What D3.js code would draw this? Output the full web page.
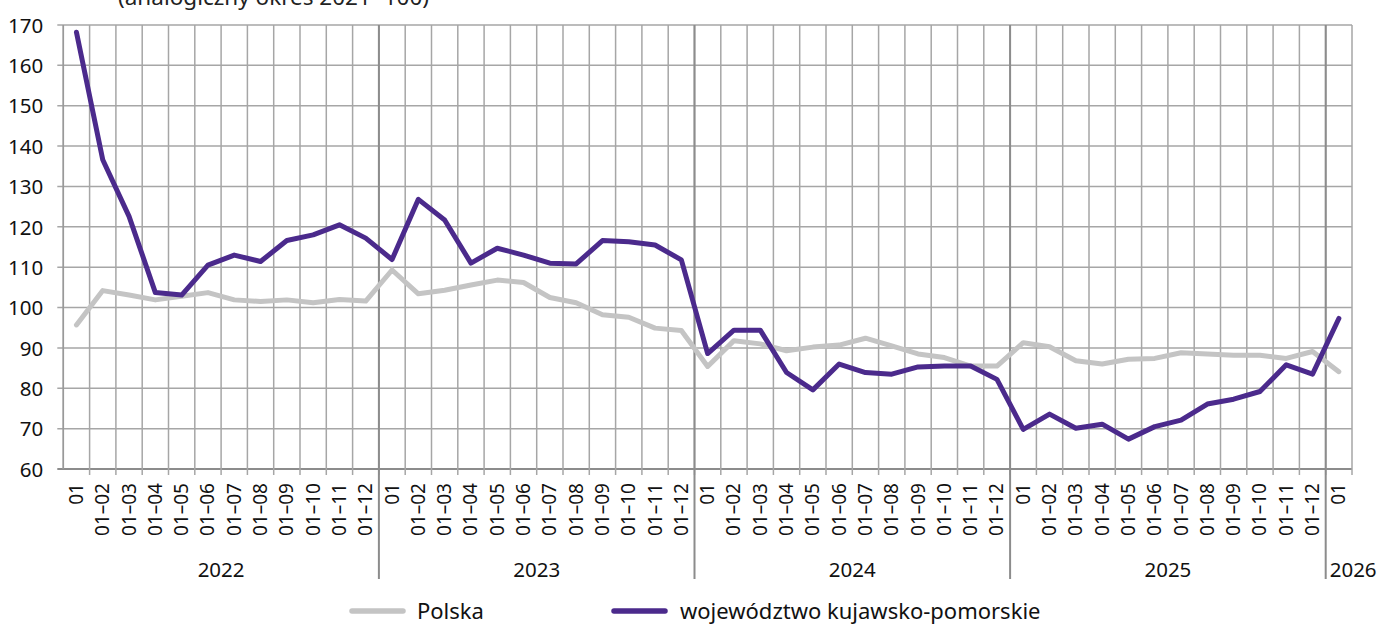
<!DOCTYPE html>
<html><head><meta charset="utf-8">
<script src="https://cdn.jsdelivr.net/npm/d3@7/dist/d3.min.js"></script>
<style>
html,body{margin:0;padding:0;background:#fff;}
svg{display:block;font-family:"Noto Sans",sans-serif;}
</style></head>
<body><svg id="c" width="1379" height="624"></svg>
<script>
const monthLabels = ["01","01–02","01–03","01–04","01–05","01–06","01–07","01–08","01–09","01–10","01–11","01–12"];
const years = ["2022","2023","2024","2025","2026"];
const yearMonths = [12,12,12,12,1];
const yTicks = [60,70,80,90,100,110,120,130,140,150,160,170];
const polska = [95.7,104.2,103.1,101.9,102.8,103.7,101.9,101.5,101.9,101.2,102.0,101.6,
  109.3,103.4,104.3,105.6,106.8,106.2,102.5,101.2,98.2,97.6,94.9,94.3,
  85.4,91.8,91.0,89.3,90.2,90.7,92.4,90.5,88.5,87.6,85.5,85.5,
  91.3,90.3,86.8,86.0,87.2,87.4,88.8,88.5,88.2,88.2,87.4,89.1,
  84.1];
const kujPom = [168.2,136.6,122.6,103.7,103.1,110.5,113.0,111.4,116.6,118.0,120.5,117.2,
  111.9,126.8,121.7,111.0,114.7,113.0,111.0,110.8,116.6,116.3,115.5,111.8,
  88.6,94.4,94.4,83.9,79.6,86.0,83.9,83.5,85.3,85.5,85.5,82.2,
  69.8,73.6,70.1,71.1,67.4,70.5,72.1,76.1,77.3,79.2,85.8,83.5,
  97.3];
const seriesNames = ["Polska","województwo kujawsko-pomorskie"];
const colors = ["#c4c4c4","#4b2a8c"];
const titleText = "(analogiczny okres 2021=100)";

const svg = d3.select("#c");
const pL = 63.3, pR = 1352, pT = 25, pB = 469;
const cats = [];
years.forEach((yr,yi)=>{ for(let m=0;m<yearMonths[yi];m++) cats.push({year:yr, yi, label:monthLabels[m], idx:cats.length}); });
const x = d3.scaleBand().domain(cats.map(c=>c.idx)).range([pL,pR]).padding(0);
const y = d3.scaleLinear().domain([60,170]).range([pB,pT]);

// title (cut at the top edge, as in the reference)
svg.append("text").attr("x",118).attr("y",5).attr("font-size",22.5).attr("fill","#222").text(titleText);

const grid = svg.append("g");
grid.selectAll("line.h").data(yTicks).join("line")
  .attr("x1",pL-6).attr("x2",pR).attr("y1",d=>y(d)).attr("y2",d=>y(d))
  .attr("stroke",d=>d===60?"#8c8c8c":"#a6a6a6").attr("stroke-width",d=>d===60?2:1.5);
const bounds = cats.map(c=>x(c.idx)).concat([x(cats.length-1)+x.bandwidth()]);
grid.selectAll("line.v").data(bounds).join("line")
  .attr("x1",d=>d).attr("x2",d=>d).attr("y1",pT).attr("y2",(d,i)=> i===0? pB : pB+6)
  .attr("stroke","#a6a6a6").attr("stroke-width",1.5);
svg.append("line").attr("x1",pL).attr("x2",pL).attr("y1",pT).attr("y2",pB).attr("stroke","#999").attr("stroke-width",1.5);
let start=0; const yearStarts=[];
yearMonths.forEach((n,i)=>{ yearStarts.push({yr:years[i], s:start, n}); start+=n; });
svg.selectAll("line.ys").data(yearStarts.slice(1)).join("line")
  .attr("x1",d=>x(d.s)).attr("x2",d=>x(d.s)).attr("y1",pT).attr("y2",579)
  .attr("stroke","#8c8c8c").attr("stroke-width",2);

const yAxis = d3.axisLeft(y).tickValues(yTicks).tickSize(0).tickPadding(0);
const ya = svg.append("g").attr("transform",`translate(${pL-20},0)`).call(yAxis);
ya.select(".domain").remove();
ya.selectAll("text").attr("font-size",20.5).attr("fill","#111").attr("font-family","Noto Sans").attr("dy","0.35em");

svg.selectAll("text.xl").data(cats).join("text")
  .attr("transform",d=>`translate(${x(d.idx)+x.bandwidth()/2+6.5},483) rotate(-90)`)
  .attr("text-anchor","end").attr("font-size",19).attr("fill","#111").text(d=>d.label);

svg.selectAll("text.yr").data(yearStarts).join("text")
  .attr("x",d=> d.n>1 ? x(d.s)+ (d.n*x.step())/2 : x(d.s)+4)
  .attr("y",577).attr("text-anchor",d=>d.n>1?"middle":"start")
  .attr("font-size",20.5).attr("fill","#111").text(d=>d.yr);

const line = d3.line().x((d,i)=>x(i)+x.bandwidth()/2).y(d=>y(d)).curve(d3.curveLinear);
[polska,kujPom].forEach((s,i)=>{
  svg.append("path").datum(s).attr("d",line).attr("fill","none")
    .attr("stroke",colors[i]).attr("stroke-width",5).attr("stroke-linejoin","round").attr("stroke-linecap","round");
});

const legX = [352,614], legTextX=[417,680];
seriesNames.forEach((n,i)=>{
  svg.append("line").attr("x1",legX[i]).attr("x2",legX[i]+51).attr("y1",611).attr("y2",611)
    .attr("stroke",colors[i]).attr("stroke-width",5.5).attr("stroke-linecap","round");
  svg.append("text").attr("x",legTextX[i]).attr("y",619).attr("font-size",22).attr("fill","#111").text(n);
});
</script></body></html>
